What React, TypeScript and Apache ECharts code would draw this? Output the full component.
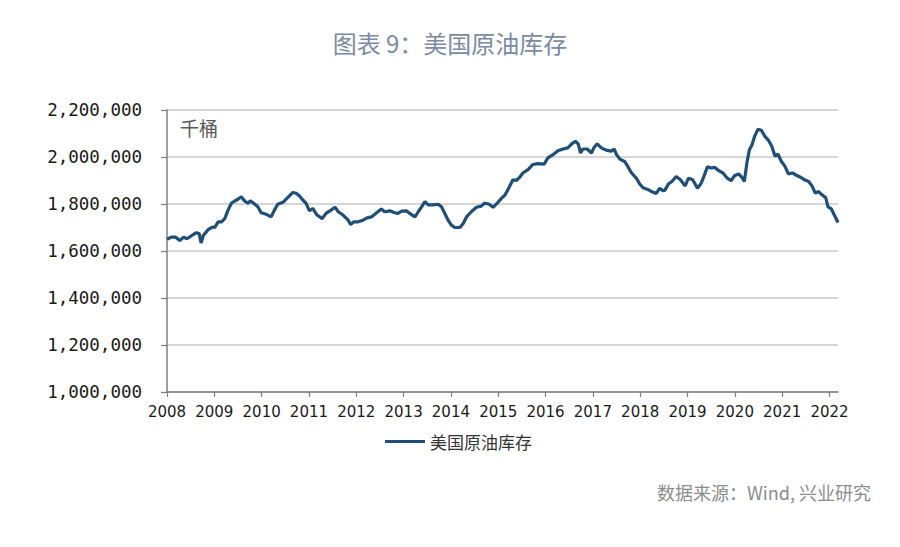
import React, { useEffect, useRef } from "react";
import * as echarts from "echarts";

const TITLE = "图表 9：美国原油库存";
const UNIT = "千桶";
const SERIES_NAME = "美国原油库存";
const SOURCE = "数据来源：Wind, 兴业研究";

const yearTicks = [2008, 2009, 2010, 2011, 2012, 2013, 2014, 2015, 2016, 2017, 2018, 2019, 2020, 2021, 2022];

const dates = [
  2008.0, 2008.09, 2008.18, 2008.27, 2008.35, 2008.42, 2008.51, 2008.62, 2008.68, 2008.72, 2008.77, 2008.87, 2008.96,
  2009.01, 2009.08, 2009.15, 2009.22, 2009.29, 2009.36, 2009.43, 2009.5, 2009.57, 2009.64, 2009.71, 2009.76, 2009.83, 2009.92, 2009.99,
  2010.1, 2010.2, 2010.27, 2010.34, 2010.45, 2010.55, 2010.66, 2010.73, 2010.8, 2010.87, 2010.94,
  2011.01, 2011.08, 2011.17, 2011.28, 2011.36, 2011.45, 2011.55, 2011.62, 2011.72, 2011.83, 2011.88, 2011.95,
  2012.04, 2012.14, 2012.23, 2012.32, 2012.43, 2012.53, 2012.6, 2012.71, 2012.81, 2012.88, 2012.96,
  2013.06, 2013.13, 2013.24, 2013.31, 2013.38, 2013.45, 2013.52, 2013.62, 2013.73, 2013.8, 2013.87, 2013.94,
  2014.01, 2014.08, 2014.19, 2014.26, 2014.33, 2014.43, 2014.54, 2014.64, 2014.71, 2014.8, 2014.89, 2014.99,
  2015.07, 2015.14, 2015.22, 2015.31, 2015.38, 2015.45, 2015.52, 2015.63, 2015.73, 2015.84, 2015.97,
  2016.05, 2016.16, 2016.26, 2016.37, 2016.47, 2016.56, 2016.63, 2016.69, 2016.74, 2016.79, 2016.88, 2016.97,
  2017.02, 2017.09, 2017.18, 2017.28, 2017.39, 2017.45, 2017.5, 2017.57, 2017.67, 2017.74, 2017.81, 2017.92, 2017.99,
  2018.06, 2018.16, 2018.25, 2018.34, 2018.41, 2018.48, 2018.52, 2018.6, 2018.67, 2018.76, 2018.85, 2018.95,
  2019.02, 2019.11, 2019.21, 2019.29, 2019.36, 2019.42, 2019.5, 2019.57, 2019.66, 2019.75, 2019.84, 2019.92, 2019.99,
  2020.08, 2020.15, 2020.2, 2020.26, 2020.31, 2020.36, 2020.42, 2020.49, 2020.56, 2020.63, 2020.71, 2020.78, 2020.85, 2020.91, 2020.98,
  2021.06, 2021.13, 2021.22, 2021.3, 2021.4, 2021.47, 2021.56, 2021.63, 2021.7, 2021.77, 2021.84, 2021.92, 2021.97,
  2022.04, 2022.11, 2022.18,
];

const stocks = [
  1650000, 1659000, 1659000, 1645000, 1659000, 1652000, 1664000, 1678000, 1674000, 1634000, 1667000, 1691000, 1702000,
  1700000, 1724000, 1724000, 1738000, 1774000, 1803000, 1813000, 1820000, 1831000, 1813000, 1803000, 1814000, 1803000, 1788000, 1763000,
  1756000, 1745000, 1774000, 1799000, 1807000, 1827000, 1849000, 1846000, 1834000, 1817000, 1803000,
  1771000, 1781000, 1753000, 1738000, 1760000, 1772000, 1786000, 1767000, 1753000, 1731000, 1713000, 1724000,
  1724000, 1731000, 1741000, 1745000, 1763000, 1779000, 1767000, 1771000, 1763000, 1760000, 1770000,
  1771000, 1760000, 1745000, 1767000, 1788000, 1810000, 1796000, 1796000, 1799000, 1788000, 1760000, 1731000,
  1710000, 1700000, 1700000, 1717000, 1745000, 1767000, 1786000, 1791000, 1803000, 1800000, 1786000, 1806000,
  1825000, 1837000, 1867000, 1903000, 1900000, 1913000, 1932000, 1946000, 1968000, 1972000, 1970000,
  1996000, 2010000, 2027000, 2034000, 2039000, 2057000, 2067000, 2056000, 2017000, 2034000, 2034000, 2017000,
  2039000, 2056000, 2039000, 2029000, 2025000, 2034000, 2010000, 1991000, 1981000, 1959000, 1934000, 1909000, 1885000,
  1869000, 1862000, 1852000, 1845000, 1867000, 1857000, 1858000, 1886000, 1896000, 1917000, 1903000, 1877000,
  1910000, 1903000, 1867000, 1889000, 1925000, 1958000, 1953000, 1956000, 1942000, 1932000, 1910000, 1899000, 1920000,
  1928000, 1913000, 1896000, 1982000, 2032000, 2050000, 2089000, 2118000, 2114000, 2089000, 2071000, 2046000, 2003000, 2013000, 1982000,
  1960000, 1928000, 1932000, 1922000, 1913000, 1903000, 1896000, 1877000, 1846000, 1853000, 1839000, 1827000, 1788000,
  1779000, 1750000, 1721000,
];

export default function App() {
  const ref = useRef<HTMLDivElement>(null);

  useEffect(() => {
    if (!ref.current) return;
    const chart = echarts.init(ref.current, null, { renderer: "svg" });
    const lineColor = "#1f4e79";
    chart.setOption({
      animation: false,
      backgroundColor: "#ffffff",
      title: {
        text: TITLE,
        left: "center",
        top: 25,
        textStyle: {
          fontFamily: "Noto Sans CJK SC",
          fontSize: 24,
          fontWeight: "normal",
          color: "#7b8ba1",
        },
      },
      graphic: [
        {
          type: "text",
          left: 180,
          top: 118,
          style: {
            text: UNIT,
            font: '19px "Noto Sans CJK SC"',
            fill: "#595959",
          },
        },
        {
          type: "text",
          right: 29,
          top: 483,
          style: {
            text: SOURCE,
            font: '18px "Noto Sans CJK SC"',
            fill: "#8c8c8c",
          },
        },
      ],
      legend: {
        left: 380,
        top: 428,
        icon: "rect",
        itemWidth: 40,
        itemHeight: 3,
        itemGap: 10,
        textStyle: {
          fontFamily: "Noto Sans CJK SC",
          fontSize: 17,
          color: "#333333",
        },
        data: [SERIES_NAME],
      },
      grid: {
        left: 167,
        right: 62,
        top: 110,
        bottom: 155,
        containLabel: false,
      },
      xAxis: {
        type: "value",
        min: 2008,
        max: 2022.18,
        interval: 1,
        splitLine: { show: false },
        axisLine: { show: true, lineStyle: { color: "#7f7f7f", width: 1.5 } },
        axisTick: {
          show: true,
          length: 5,
          customValues: yearTicks,
          lineStyle: { color: "#7f7f7f", width: 1.2 },
        },
        axisLabel: {
          customValues: yearTicks,
          margin: 12,
          fontFamily: "DejaVu Sans",
          fontSize: 15,
          color: "#1a1a1a",
          formatter: (v: number) => String(Math.round(v)),
        },
      },
      yAxis: {
        type: "value",
        min: 1000000,
        max: 2200000,
        interval: 200000,
        axisLine: { show: true, lineStyle: { color: "#7f7f7f", width: 1.5 } },
        axisTick: { show: true, length: 6, lineStyle: { color: "#7f7f7f", width: 1.2 } },
        splitLine: { show: true, lineStyle: { color: "#c8c8c8", width: 1.5 } },
        axisLabel: {
          margin: 25,
          fontFamily: "DejaVu Sans Mono",
          fontSize: 17.5,
          color: "#1a1a1a",
          formatter: (v: number) => v.toLocaleString("en-US"),
        },
      },
      series: [
        {
          name: SERIES_NAME,
          type: "line",
          data: dates.map((d, i) => [d, stocks[i]]),
          showSymbol: false,
          symbol: "none",
          lineStyle: { color: lineColor, width: 3.2 },
          itemStyle: { color: lineColor },
          emphasis: { disabled: true },
        },
      ],
    });
    return () => chart.dispose();
  }, []);

  return (
    <div
      ref={ref}
      style={{ position: "fixed", left: 0, top: 0, width: 900, height: 547, background: "#fff" }}
    />
  );
}
